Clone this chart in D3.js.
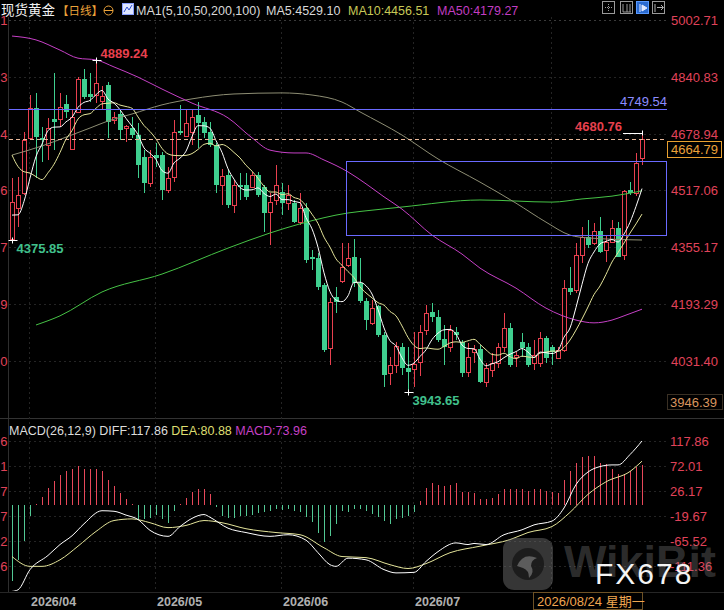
<!DOCTYPE html>
<html lang="zh-CN">
<head>
<meta charset="utf-8">
<title>现货黄金 日线</title>
<script src="https://cdn.jsdelivr.net/npm/d3@7/dist/d3.min.js"></script>
<style>
  body { margin: 0; background: #000; }
  #chart svg { display: block; font-family: "Liberation Sans", Arial, "Noto Sans CJK SC", sans-serif; }
</style>
</head>
<body>
<div id="chart"></div>
<script>
// trading days on screen, grouped by month
var monthNames = ["2026/03", "2026/04", "2026/05", "2026/06", "2026/07", "2026/08"];
var monthDays = [
  [27, 30, 31],
  [1, 2, 6, 7, 8, 9, 10, 13, 14, 15, 16, 17, 20, 21, 22, 23, 24, 27, 28, 29, 30],
  [1, 4, 5, 6, 7, 8, 11, 12, 13, 14, 15, 18, 19, 20, 21, 22, 25, 26, 27, 28, 29],
  [1, 2, 3, 4, 5, 8, 9, 10, 11, 12, 15, 16, 17, 18, 19, 22, 23, 24, 25, 26, 29, 30],
  [1, 2, 3, 6, 7, 8, 9, 10, 13, 14, 15, 16, 17, 20, 21, 22, 23, 24, 27, 28, 29, 30, 31],
  [3, 4, 5, 6, 7, 10, 11, 12, 13, 14, 17, 18, 19, 20, 21, 24]
];

var open = [4380, 4467, 4510, 4667, 4752, 4668, 4647, 4721, 4721, 4763,
  4635, 4741, 4835, 4792, 4789, 4772, 4817, 4718, 4735, 4694,
  4695, 4675, 4613, 4538, 4618, 4618, 4518, 4555, 4687, 4672,
  4684, 4732, 4712, 4684, 4647, 4533, 4561, 4476, 4533, 4533,
  4527, 4561, 4527, 4456, 4490, 4513, 4481, 4481, 4427, 4467,
  4328, 4325, 4248, 4068, 4214, 4259, 4305, 4328, 4254, 4202,
  4140, 4188, 4105, 3997, 4020, 4071, 4011, 4009, 4029, 4120,
  4171, 4157, 4094, 4071, 4114, 4086, 4000, 4057, 4066, 3972,
  4006, 4026, 4071, 4125, 4043, 4086, 4071, 4026, 4026, 4097,
  4071, 4040, 4063, 4239, 4234, 4333, 4385, 4368, 4402, 4348,
  4370, 4410, 4333, 4518, 4510, 4610];
var high = [4553, 4556, 4684, 4789, 4795, 4698, 4723, 4852, 4795, 4789,
  4746, 4840, 4863, 4852, 4889.24, 4815, 4826, 4740, 4746, 4704,
  4726, 4709, 4632, 4632, 4652, 4627, 4584, 4718, 4760, 4746,
  4746, 4769, 4726, 4712, 4652, 4578, 4575, 4547, 4567, 4567,
  4570, 4570, 4533, 4510, 4590, 4538, 4533, 4490, 4510, 4481,
  4348, 4339, 4254, 4211, 4242, 4368, 4368, 4379, 4325, 4211,
  4205, 4191, 4114, 4043, 4086, 4083, 4071, 4114, 4134, 4191,
  4197, 4177, 4134, 4134, 4128, 4091, 4083, 4077, 4077, 4026,
  4054, 4083, 4168, 4140, 4057, 4111, 4083, 4091, 4114, 4103,
  4077, 4071, 4262, 4299, 4368, 4413, 4433, 4425, 4442, 4390,
  4433, 4427, 4518, 4541, 4624, 4680.76];
var low = [4375.85, 4413, 4504, 4661, 4553, 4598, 4604, 4632, 4698, 4724,
  4632, 4741, 4777, 4769, 4766, 4746, 4666, 4706, 4661, 4655,
  4666, 4553, 4510, 4527, 4584, 4490, 4510, 4541, 4675, 4669,
  4647, 4638, 4666, 4641, 4510, 4476, 4467, 4453, 4490, 4490,
  4524, 4498, 4399, 4362, 4476, 4447, 4461, 4424, 4419, 4311,
  4291, 4234, 4057, 4020, 4168, 4254, 4299, 4242, 4197, 4120,
  4134, 4100, 3957, 3963, 3997, 3991, 3943.65, 3957, 3989, 4105,
  4143, 4086, 4020, 4057, 4091, 3986, 3986, 4026, 3969, 3957,
  3986, 4011, 4057, 4014, 4014, 4043, 4014, 4006, 4014, 4026,
  4020, 4037, 4057, 4219, 4225, 4311, 4353, 4362, 4339, 4314,
  4368, 4328, 4319, 4504, 4501, 4590];
var close = [4484, 4504, 4661, 4752, 4669, 4660, 4695, 4712, 4755, 4741,
  4726, 4835, 4783, 4783, 4823, 4786, 4712, 4726, 4689, 4700,
  4675, 4590, 4538, 4613, 4610, 4518, 4553, 4684, 4681, 4709,
  4726, 4709, 4681, 4647, 4533, 4558, 4476, 4533, 4527, 4498,
  4561, 4504, 4453, 4484, 4533, 4481, 4504, 4427, 4467, 4319,
  4322, 4242, 4063, 4199, 4199, 4299, 4325, 4254, 4202, 4148,
  4182, 4105, 3991, 4020, 4074, 4011, 4000, 4023, 4114, 4168,
  4157, 4091, 4071, 4120, 4105, 3997, 4043, 4066, 3972, 4011,
  4026, 4071, 4125, 4020, 4049, 4069, 4020, 4049, 4097, 4040,
  4057, 4063, 4239, 4228, 4333, 4385, 4362, 4402, 4342, 4370,
  4410, 4328, 4515, 4510, 4595, 4664.79];
// closes of the days just before the window (read from where MA5 / MA10 start)
var closesBefore = [4830, 4810, 4790, 4770, 4745, 4500, 4470, 4420, 4361];

// long averages as [day index, value]
var ma50Pts = [[0, 4957], [4, 4946], [8, 4917], [11, 4894], [14, 4889], [17, 4869], [21, 4840],
  [25, 4806], [30, 4766], [36, 4724], [40, 4667], [43, 4632], [47, 4624], [49, 4624], [52, 4604],
  [56, 4570], [59, 4536], [62, 4499], [65, 4464], [70, 4390], [75, 4336], [78, 4296], [84, 4239],
  [89, 4182], [94, 4148], [97, 4140], [100, 4148], [102, 4160], [105, 4179]];
var ma100Pts = [[0, 4618], [5, 4644], [9, 4669], [13, 4695], [16, 4715], [20, 4735], [25, 4761],
  [30, 4778], [37, 4792], [45, 4795], [50, 4789], [55, 4769], [58, 4741], [65, 4675], [71, 4607],
  [78, 4541], [84, 4481], [89, 4427], [93, 4390], [96, 4382], [105, 4376]];
var ma200Pts = [[4, 4134], [8, 4160], [15, 4228], [25, 4279], [36, 4353], [43, 4396], [48, 4422],
  [56, 4453], [60, 4461], [65, 4470], [78, 4490], [90, 4484], [95, 4493], [100, 4501], [105, 4516]];

// MACD(26,12,9)
var macdBars = [-138, -100, -66, -20, 3, 16, 32, 44, 55, 62,
  67, 72, 67, 66, 67, 62, 46, 35, 22, 12,
  3, -26, -26, -23, -17, -26, -32, -10, 2, 14,
  25, 30, 29, 20, -4, -20, -23, -23, -20, -19,
  -17, -15, -12, -10, -7, -8, -6, -10, -13, -22,
  -31, -50, -68, -57, -35, -11, -13, -7, -6, -10,
  -16, -22, -29, -34, -26, -23, -20, -13, 7, 31,
  40, 38, 36, 38, 40, 25, 24, 23, 12, 12,
  14, 20, 30, 30, 29, 29, 27, 29, 29, 26,
  24, 23, 46, 62, 78, 88, 90, 90, 77, 75,
  66, 57, 57, 62, 70, 73.96];
var diffPts = [[0, -158], [1, -155], [3, -118], [6, -92], [8, -72], [10, -56], [12, -34], [15, -10],
  [17, -11], [19, -18], [21, -26], [23, -46], [26, -57], [28, -39], [30, -24], [32, -17], [33, -22],
  [36, -42], [39, -50], [43, -57], [46, -54], [49, -64], [51, -87], [53, -109], [54, -112], [56, -97],
  [59, -100], [62, -118], [64, -124], [67, -123], [69, -103], [71, -85], [74, -69], [76, -72],
  [77, -70], [79, -72], [82, -54], [85, -45], [87, -36], [90, -29], [92, -5], [94, 38], [96, 61],
  [98, 71], [100, 74], [101, 74], [103, 93], [105, 117.86]];
var deaPts = [[0, -94], [3, -112], [5, -112], [8, -100], [11, -75], [14, -48], [17, -28], [20, -25],
  [23, -32], [26, -41], [29, -37], [32, -28], [35, -32], [39, -43], [44, -50], [48, -54], [52, -78],
  [55, -94], [59, -96], [63, -109], [66, -116], [69, -107], [73, -87], [78, -75], [83, -63],
  [86, -50], [90, -39], [93, -13], [96, 20], [99, 43], [103, 62], [105, 80.88]];

var priceTicks = [5002.71, 4840.83, 4678.94, 4517.06, 4355.17, 4193.29, 4031.40];
var macdTicks = [117.86, 72.01, 26.17, -19.67, -65.52, -111.36];
var resistance = 4749.54;
var box = {from: 56, top: 4600, bottom: 4389};
var cursorPrice = 3946.39;
var cursorDate = "2026/08/24 星期一";

var upColor = "#e8404f", downColor = "#3fcf8f", axisRed = "#e0435a", levelColor = "#6a6aff";

var dates = [];
monthNames.forEach(function(m, k) {
  monthDays[k].forEach(function(d) { dates.push(m + "/" + (d < 10 ? "0" + d : d)); });
});

var W = 724, H = 610;
var svg = d3.select("#chart").append("svg").attr("width", W).attr("height", H)
  .style("background", "#000");

var x = d3.scaleLinear().domain([0, dates.length - 1]).range([12, 642]);
var y = d3.scaleLinear().domain([5002.71, 4031.40]).range([20, 361]);
var ym = d3.scaleLinear().domain([117.86, -111.36]).range([441, 566]);
var px = function(i) { return Math.round(x(i)); };

var defs = svg.append("defs");
defs.append("clipPath").attr("id", "clipMain").append("rect").attr("x", 9).attr("y", 17).attr("width", 658).attr("height", 400);
defs.append("clipPath").attr("id", "clipMacd").append("rect").attr("x", 9).attr("y", 419).attr("width", 658).attr("height", 172);

// frame lines
svg.append("line").attr("x1", 8.5).attr("x2", 8.5).attr("y1", 17).attr("y2", 592).attr("stroke", "#2e2e2e");
svg.append("line").attr("x1", 0).attr("x2", W).attr("y1", 418.5).attr("y2", 418.5).attr("stroke", "#333");
svg.append("line").attr("x1", 0).attr("x2", W).attr("y1", 592.5).attr("y2", 592.5).attr("stroke", "#262626");

// grid
var grid = svg.append("g").attr("stroke", "#242424").attr("stroke-dasharray", "2,3");
grid.selectAll("line.gp").data(priceTicks).enter().append("line")
  .attr("x1", 9).attr("x2", 667)
  .attr("y1", function(d) { return Math.round(y(d)) + 0.5; })
  .attr("y2", function(d) { return Math.round(y(d)) + 0.5; })
  .attr("stroke", function(d, i) { return i === 0 ? "#3a3a3a" : null; });
grid.selectAll("line.gm").data(macdTicks).enter().append("line")
  .attr("x1", 9).attr("x2", 667)
  .attr("y1", function(d) { return Math.round(ym(d)) + 0.5; })
  .attr("y2", function(d) { return Math.round(ym(d)) + 0.5; });

var monthStarts = [];
dates.forEach(function(d, i) {
  if (i > 0 && d.slice(0, 7) !== dates[i - 1].slice(0, 7)) monthStarts.push({i: i, label: d.slice(0, 7)});
});
grid.selectAll("line.gv").data(monthStarts).enter().append("line")
  .attr("y1", 17).attr("y2", 592)
  .attr("x1", function(d) { return px(d.i) - 0.5; })
  .attr("x2", function(d) { return px(d.i) - 0.5; });

// ---------- price panel ----------
var main = svg.append("g").attr("clip-path", "url(#clipMain)");

var candles = dates.map(function(d, i) {
  return {i: i, o: open[i], h: high[i], l: low[i], c: close[i]};
});

var cg = main.selectAll("g.candle").data(candles).enter().append("g");
cg.append("line")
  .attr("x1", function(d) { return px(d.i) + 0.5; })
  .attr("x2", function(d) { return px(d.i) + 0.5; })
  .attr("y1", function(d) { return Math.round(y(d.h)); })
  .attr("y2", function(d) { return Math.round(y(d.l)); })
  .attr("stroke", function(d) { return d.c >= d.o ? upColor : downColor; });
cg.append("rect")
  .each(function(d) {
    var up = d.c >= d.o;
    var t = Math.round(y(Math.max(d.o, d.c))), b = Math.round(y(Math.min(d.o, d.c)));
    var s = d3.select(this);
    if (up) {
      s.attr("x", px(d.i) - 1.5).attr("y", t + 0.5).attr("width", 4).attr("height", Math.max(b - t, 1))
        .attr("fill", "#000").attr("stroke", upColor);
    } else {
      s.attr("x", px(d.i) - 2).attr("y", t).attr("width", 5).attr("height", Math.max(b - t, 1))
        .attr("fill", downColor);
    }
  });

function movingAverage(n) {
  var all = closesBefore.concat(close), off = closesBefore.length;
  return close.map(function(c, i) { return [i, d3.mean(all.slice(off + i - n + 1, off + i + 1))]; });
}

var priceLine = d3.line().x(function(d) { return x(d[0]); }).y(function(d) { return y(d[1]); })
  .curve(d3.curveMonotoneX);
var maLines = [
  {pts: ma200Pts, color: "#46c346"},
  {pts: ma100Pts, color: "#8e8e74"},
  {pts: ma50Pts, color: "#c640c6"},
  {pts: movingAverage(10), color: "#e4e49a"},
  {pts: movingAverage(5), color: "#ffffff"}
];
main.selectAll("path.ma").data(maLines).enter().append("path")
  .attr("d", function(d) { return priceLine(d.pts); })
  .attr("fill", "none").attr("stroke", function(d) { return d.color; }).attr("stroke-width", 1);

// drawn levels
var lvl = main.append("g").attr("fill", "none");
lvl.append("line").attr("x1", 9).attr("x2", 667)
  .attr("y1", Math.round(y(resistance)) + 0.5).attr("y2", Math.round(y(resistance)) + 0.5)
  .attr("stroke", levelColor).attr("stroke-width", 1.2);
lvl.append("rect").attr("x", px(box.from) - 1.5).attr("y", Math.round(y(box.top)) + 0.5)
  .attr("width", 667 - px(box.from) + 1).attr("height", Math.round(y(box.bottom)) - Math.round(y(box.top)))
  .attr("stroke", levelColor);

var lastClose = close[close.length - 1];
main.append("line").attr("x1", 9).attr("x2", 667)
  .attr("y1", Math.round(y(lastClose)) + 0.5).attr("y2", Math.round(y(lastClose)) + 0.5)
  .attr("stroke", "#e9b89a").attr("stroke-dasharray", "4,3");

svg.append("text").attr("x", 667).attr("y", Math.round(y(resistance)) - 3).attr("text-anchor", "end")
  .attr("font-size", 13).attr("fill", "#8c8cff").text(resistance.toFixed(2));

// extreme markers
var ann = svg.append("g").attr("font-size", 13).attr("font-weight", "bold");
function mark(i, v, label, color, dx, dy, anchor) {
  var cx = px(i) + 0.5, cy = Math.round(y(v)) + 0.5;
  ann.append("line").attr("x1", cx - 4).attr("x2", cx + 5).attr("y1", cy).attr("y2", cy).attr("stroke", "#fff");
  ann.append("line").attr("x1", cx).attr("x2", cx).attr("y1", cy - 3).attr("y2", cy + 3).attr("stroke", "#fff");
  ann.append("text").attr("x", cx + dx).attr("y", cy + dy).attr("text-anchor", anchor || "start")
    .attr("fill", color).text(label);
}
var hiIdx = d3.maxIndex(high), loIdx = d3.minIndex(low);
mark(hiIdx, high[hiIdx], high[hiIdx].toFixed(2), "#e8404e", 4, -3);
mark(loIdx, low[loIdx], low[loIdx].toFixed(2), "#40c08c", 4, 12);
mark(0, low[0], low[0].toFixed(2), "#40c08c", 4, 12);
var lastI = dates.length - 1, lastY = Math.round(y(high[lastI])) + 0.5;
ann.append("line").attr("x1", px(lastI) - 19).attr("x2", px(lastI) + 1).attr("y1", lastY).attr("y2", lastY).attr("stroke", "#fff");
ann.append("line").attr("x1", px(lastI) + 0.5).attr("x2", px(lastI) + 0.5).attr("y1", lastY - 3).attr("y2", lastY + 2).attr("stroke", "#fff");
ann.append("text").attr("x", px(lastI) - 20).attr("y", lastY - 3).attr("text-anchor", "end")
  .attr("fill", "#e8404e").text(high[lastI].toFixed(2));

// price axis (right); the left edge only shows the last digit of each label
var axisR = svg.append("g").attr("font-size", 13).attr("fill", axisRed);
axisR.selectAll("text").data(priceTicks).enter().append("text")
  .attr("x", 671).attr("y", function(d) { return y(d) + 5; }).text(function(d) { return d.toFixed(2); });
var lastDigit = function(d) { var s = d.toFixed(2); return s.charAt(s.length - 1); };
var axisL = svg.append("g").attr("font-size", 13).attr("fill", axisRed).attr("text-anchor", "end");
axisL.selectAll("text.p").data(priceTicks).enter().append("text")
  .attr("x", 7.5).attr("y", function(d) { return y(d) + 5; }).text(lastDigit);
axisL.selectAll("text.m").data(macdTicks).enter().append("text")
  .attr("x", 7.5).attr("y", function(d) { return ym(d) + 5; }).text(lastDigit);

var lastBoxY = Math.round(y(lastClose)) + 2;
svg.append("rect").attr("x", 667.5).attr("y", lastBoxY + 0.5).attr("width", 54).attr("height", 16)
  .attr("fill", "#000").attr("stroke", "#e8a030");
svg.append("text").attr("x", 671).attr("y", lastBoxY + 13).attr("font-size", 13).attr("fill", "#eba23a")
  .text(lastClose.toFixed(2));

svg.append("rect").attr("x", 667.5).attr("y", 394.5).attr("width", 55).attr("height", 15)
  .attr("fill", "#000").attr("stroke", "#3a3024");
svg.append("text").attr("x", 670).attr("y", 406.5).attr("font-size", 13).attr("fill", "#d9955f")
  .text(cursorPrice.toFixed(2));

// ---------- MACD panel ----------
var macd = svg.append("g").attr("clip-path", "url(#clipMacd)");
var zeroY = Math.round(ym(0));
macd.selectAll("line.bar").data(macdBars).enter().append("line")
  .attr("x1", function(d, i) { return px(i) + 0.5; })
  .attr("x2", function(d, i) { return px(i) + 0.5; })
  .attr("y1", zeroY).attr("y2", function(d) { return Math.round(ym(d)); })
  .attr("stroke", function(d) { return d >= 0 ? "#e8485a" : "#52c894"; });
var macdLine = d3.line().x(function(d) { return x(d[0]); }).y(function(d) { return ym(d[1]); })
  .curve(d3.curveMonotoneX);
macd.append("path").attr("d", macdLine(deaPts)).attr("fill", "none").attr("stroke", "#e4e49a");
macd.append("path").attr("d", macdLine(diffPts)).attr("fill", "none").attr("stroke", "#ffffff");

svg.append("g").attr("font-size", 13).attr("fill", axisRed)
  .selectAll("text").data(macdTicks).enter().append("text")
  .attr("x", 670).attr("y", function(d) { return ym(d) + 5; }).text(function(d) { return d.toFixed(2); });

var mt = svg.append("text").attr("x", 9).attr("y", 435).attr("font-size", 12.5);
mt.append("tspan").attr("fill", "#dcdcdc").text("MACD(26,12,9) DIFF:" + diffPts[diffPts.length - 1][1].toFixed(2) + "  ");
mt.append("tspan").attr("fill", "#dede70").text("DEA:" + deaPts[deaPts.length - 1][1].toFixed(2) + "  ");
mt.append("tspan").attr("fill", "#c640c6").text("MACD:" + macdBars[macdBars.length - 1].toFixed(2));

// ---------- watermark ----------
var wm = svg.append("g");
wm.append("rect").attr("x", 503).attr("y", 538).attr("width", 50).attr("height", 52).attr("rx", 11)
  .attr("fill", "rgba(120,120,120,0.45)");
wm.append("circle").attr("cx", 528).attr("cy", 564).attr("r", 16).attr("fill", "rgba(20,20,20,0.75)");
wm.append("path").attr("d", "M517,566 q6,-14 20,-8 q-6,2 -6,8 q4,6 -2,12 q0,-8 -6,-10 z").attr("fill", "rgba(120,120,120,0.7)");
wm.append("text").attr("x", 564).attr("y", 577).attr("font-size", 45).attr("font-weight", "bold")
  .attr("fill", "rgba(140,140,140,0.33)").text("WikiBit");
wm.append("text").attr("x", 595).attr("y", 584).attr("font-size", 30).attr("letter-spacing", 2)
  .attr("fill", "#f4f4f4").text("FX678");

// ---------- time axis ----------
var cursorBoxX = 533.5;
svg.append("g").attr("font-size", 12.5).attr("font-weight", "bold").attr("fill", "#b0b0b0")
  .selectAll("text").data(monthStarts.filter(function(d) { return px(d.i) + 48 < cursorBoxX; }))
  .enter().append("text")
  .attr("x", function(d) { return px(d.i) + 1; }).attr("y", 606).text(function(d) { return d.label; });
svg.append("rect").attr("x", cursorBoxX).attr("y", 592.5).attr("width", 109).attr("height", 17)
  .attr("fill", "#000").attr("stroke", "#6e5226");
svg.append("text").attr("x", 537).attr("y", 606).attr("font-size", 13).attr("fill", "#f0a650")
  .text(cursorDate);

// ---------- title bar ----------
var head = svg.append("g").attr("font-size", 12.5);
head.append("text").attr("x", 1).attr("y", 15).attr("font-family", "'Noto Sans CJK SC', sans-serif")
  .attr("font-size", 13.5).attr("fill", "#f0f0f0").text("现货黄金");
head.append("text").attr("x", 57).attr("y", 15).attr("font-family", "'Noto Sans CJK SC', sans-serif")
  .attr("font-size", 11.5).attr("fill", "#eca33a").text("【日线】");
head.append("circle").attr("cx", 108.5).attr("cy", 10.5).attr("r", 4.5).attr("fill", "none").attr("stroke", "#eca33a");
head.append("line").attr("x1", 104).attr("x2", 113).attr("y1", 10.5).attr("y2", 10.5).attr("stroke", "#eca33a");
head.append("rect").attr("x", 122.5).attr("y", 3.5).attr("width", 11).attr("height", 11).attr("fill", "#dfe6ff").attr("stroke", "#8aa0ff");
head.append("polyline").attr("points", "124,12 127,7 129,10 132,5").attr("fill", "none").attr("stroke", "#3050d0");
head.append("text").attr("x", 136).attr("y", 15).attr("fill", "#d8d8d8").text("MA1(5,10,50,200,100)");
head.append("text").attr("x", 266).attr("y", 15).attr("fill", "#d8d8d8").text("MA5:4529.10");
head.append("text").attr("x", 348).attr("y", 15).attr("fill", "#c8c856").text("MA10:4456.51");
head.append("text").attr("x", 437).attr("y", 15).attr("fill", "#c23dc2").text("MA50:4179.27");

var icons = svg.append("g");
[602, 620, 636, 652].forEach(function(ix, k) {
  icons.append("rect").attr("x", ix + 0.5).attr("y", 1.5).attr("width", 12).attr("height", 12)
    .attr("fill", k === 2 ? "#2a6ad0" : "none").attr("stroke", k === 2 ? "#5a9aff" : "#9a9a9a");
});
icons.append("path").attr("d", "M605,7.5h7M608.5,4v7").attr("stroke", "#9a9a9a").attr("stroke-dasharray", "1,1");
icons.append("path").attr("d", "M623,4v8M627,4v8M630,4v8M623,12h8").attr("stroke", "#9a9a9a");
icons.append("path").attr("d", "M640,4v8M642,5l5,3l-5,3z").attr("stroke", "#e0e8ff").attr("fill", "#e0e8ff");
icons.append("path").attr("d", "M655,4v8M657,7.5h6M661,5l2.5,2.5l-2.5,2.5").attr("stroke", "#b0b0b0").attr("fill", "none");
</script>
</body>
</html>
